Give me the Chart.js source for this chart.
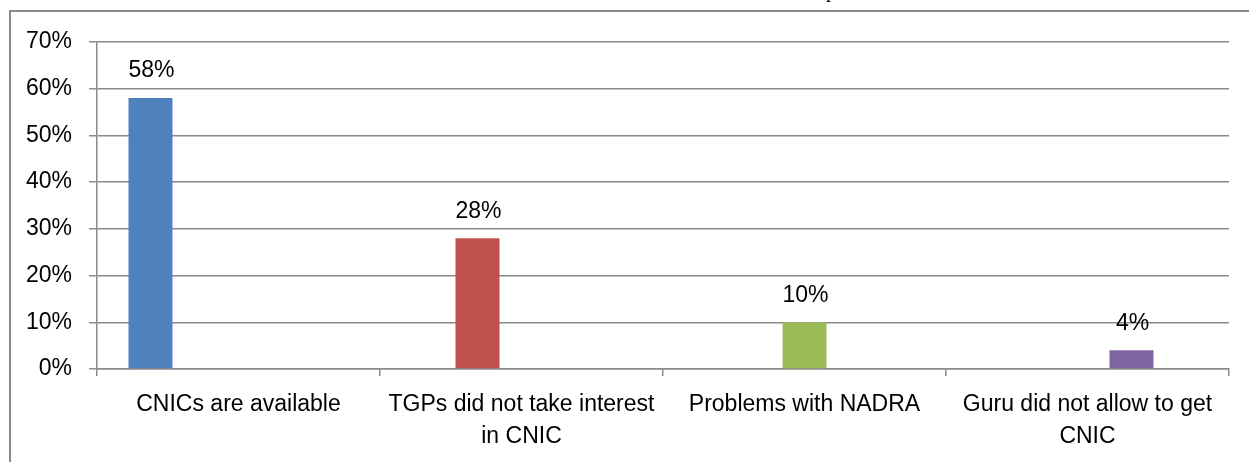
<!DOCTYPE html>
<html>
<head>
<meta charset="utf-8">
<script src="https://cdn.jsdelivr.net/npm/chart.js@4.4.1/dist/chart.umd.min.js"></script>
<style>
    body { margin: 0; width: 1249px; height: 462px; overflow: hidden; background: #fff; position: relative; }
    #frame { position: absolute; left: 9px; top: 10px; width: 1400px; height: 600px; border: 2px solid #8a8a8a; }
    #titletail { position: absolute; left: 826px; top: -21px; font: 20px "Liberation Serif", serif; color: #000; }
    #cnicchart { position: absolute; left: 0; top: 0; }
</style>
</head>
<body>
<div id="frame"></div>
<span id="titletail">p</span>
<canvas id="cnicchart" width="1249" height="462"></canvas>
<script>
// categories (wrapped the way the original wraps them)
const categories = [
    ["CNICs are available"],
    ["TGPs did not take interest", "in CNIC"],
    ["Problems with NADRA"],
    ["Guru did not allow to get", "CNIC"],
];
// share of respondents, in percent
const shares = [58, 28, 10, 4];
const barColors = ["#4f81bd", "#c0504d", "#9bbb59", "#8064a2"];
const yTicks = [0, 10, 20, 30, 40, 50, 60, 70];

const fontFamily = '"Liberation Sans", Arial, sans-serif';
const labelFont = "23px " + fontFamily;

// every category is its own series, like the spreadsheet it came from
let datasets = shares.map((v, i) => ({
    label: categories[i].join(" "),
    data: categories.map((_, j) => (j === i ? v : null)),
    backgroundColor: barColors[i],
}));
// empty slot so the bars sit where the original puts them
datasets.push({ label: "", data: categories.map(() => null), backgroundColor: "transparent" });

// write the value above each bar
const valueLabels = {
    id: "valueLabels",
    afterDatasetsDraw(chart) {
        const ctx = chart.ctx;
        ctx.save();
        ctx.font = labelFont;
        ctx.fillStyle = "#000";
        ctx.textAlign = "center";
        ctx.textBaseline = "middle";
        shares.forEach((v, i) => {
            const bar = chart.getDatasetMeta(i).data[i];
            ctx.fillText(v + "%", bar.x + 1, bar.y - 27);
        });
        ctx.restore();
    },
};

new Chart(document.getElementById("cnicchart"), {
    type: "bar",
    data: { labels: categories, datasets: datasets },
    plugins: [valueLabels],
    options: {
        responsive: false,
        animation: false,
        categoryPercentage: 0.7774,
        barPercentage: 1,
        layout: { padding: { left: 0, top: 42, right: 20, bottom: 0 } },
        plugins: { legend: { display: false }, tooltip: { enabled: false } },
        scales: {
            x: {
                afterFit: (scale) => { scale.height = 93; },
                grid: { offset: true, drawOnChartArea: false, drawTicks: true, tickLength: 7, color: "#8a8a8a", lineWidth: 1.5 },
                border: { color: "#8a8a8a", width: 1.5 },
                ticks: { color: "#000", font: { family: fontFamily, size: 23, lineHeight: 1.39 }, padding: 13, maxRotation: 0, autoSkip: false },
            },
            y: {
                min: 0,
                max: 70,
                afterFit: (scale) => { scale.width = 97; },
                afterBuildTicks: (scale) => { scale.ticks = yTicks.map((v) => ({ value: v })); },
                grid: { color: "#8a8a8a", lineWidth: 1.5, tickLength: 8 },
                border: { color: "#8a8a8a", width: 1.5 },
                ticks: { color: "#000", font: { family: fontFamily, size: 23 }, padding: 17, callback: (v) => v + "%" },
            },
        },
    },
});
</script>
</body>
</html>
